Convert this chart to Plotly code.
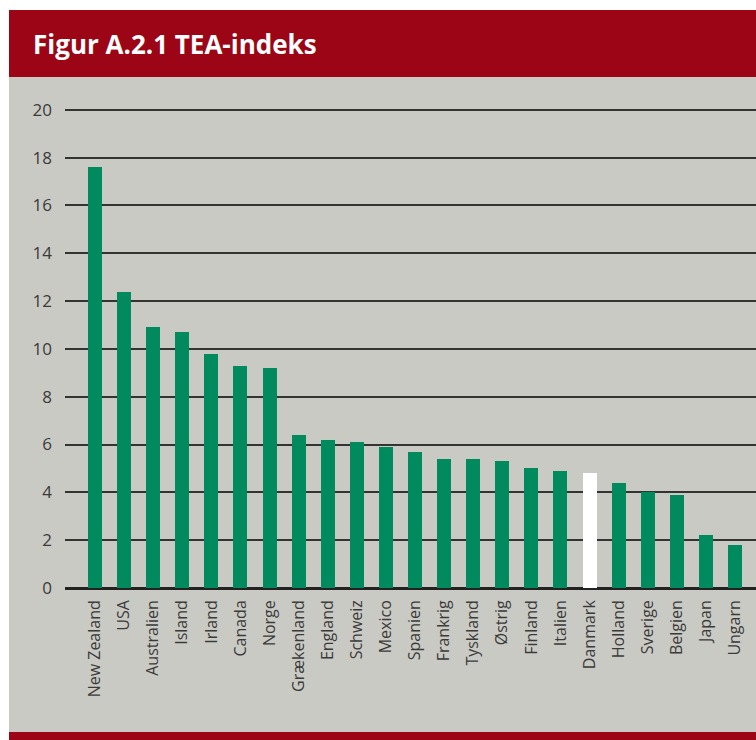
import plotly.graph_objects as go

countries = ["New Zealand", "USA", "Australien", "Island", "Irland", "Canada", "Norge",
             "Grækenland", "England", "Schweiz", "Mexico", "Spanien", "Frankrig", "Tyskland",
             "Østrig", "Finland", "Italien", "Danmark", "Holland", "Sverige", "Belgien",
             "Japan", "Ungarn"]
tea_values = [17.6, 12.4, 10.9, 10.7, 9.8, 9.3, 9.2,
              6.4, 6.2, 6.1, 5.9, 5.7, 5.4, 5.4,
              5.3, 5.0, 4.9, 4.8, 4.4, 4.0, 3.9,
              2.2, 1.8]
highlight = "Danmark"
y_ticks = [0, 2, 4, 6, 8, 10, 12, 14, 16, 18, 20]

GREEN = "#008a5e"
RED = "#9b0515"
GRAY = "#cacac4"

W, H = 756, 740
ML, MR, MT, MB = 65, 0, 105, 152
pw, ph = W - ML - MR, H - MT - MB

def px(x):
    return (x - ML) / pw

def py(y):
    return (H - MB - y) / ph

colors = ["#ffffff" if c == highlight else GREEN for c in countries]

fig = go.Figure()
fig.add_trace(go.Bar(x=list(range(len(countries))), y=tea_values, marker=dict(color=colors, line=dict(width=0)),
                     width=0.48, hoverinfo="skip"))

spacing = 29.09
left = -30 / spacing
right = left + pw / spacing

shapes = [
    dict(type="rect", xref="paper", yref="paper", x0=px(9), x1=px(760), y0=py(732), y1=py(77),
         fillcolor=GRAY, line=dict(width=0), layer="below"),
    dict(type="rect", xref="paper", yref="paper", x0=px(9), x1=px(760), y0=py(77), y1=py(10),
         fillcolor=RED, line=dict(width=0), layer="below"),
    dict(type="rect", xref="paper", yref="paper", x0=px(9), x1=px(760), y0=py(741), y1=py(732),
         fillcolor=RED, line=dict(width=0), layer="below"),
]

fig.update_layout(
    width=W, height=H,
    margin=dict(l=ML, r=MR, t=MT, b=MB, pad=0),
    paper_bgcolor="white",
    plot_bgcolor="rgba(0,0,0,0)",
    showlegend=False,
    shapes=shapes,
    font=dict(family="Open Sans", color="#333333"),
    annotations=[dict(text="<b>Figur A.2.1 TEA-indeks</b>", xref="paper", yref="paper",
                      x=px(31), y=py(44), xanchor="left", yanchor="middle", showarrow=False,
                      font=dict(family="Open Sans", size=26, color="white"))],
    bargap=0,
)
fig.update_xaxes(
    range=[left, right],
    tickmode="array", tickvals=list(range(len(countries))), ticktext=countries,
    tickangle=-90, tickfont=dict(size=16, color="#3a3a3a"),
    showgrid=False, zeroline=False, showline=False, ticks="", ticklabelstandoff=8,
)
fig.update_yaxes(
    range=[0, 20.2],
    tickmode="array", tickvals=y_ticks, ticktext=[str(v) for v in y_ticks],
    tickfont=dict(size=17, color="#3a3a3a"),
    showgrid=True, gridcolor="#333333", gridwidth=1.5,
    zeroline=True, zerolinecolor="#222222", zerolinewidth=2.5,
    showline=False, ticks="", ticklabelstandoff=12,
)

fig.write_html("out.html", config={"displayModeBar": False},
               post_script="document.body.style.margin='0';document.body.style.overflow='hidden';")
